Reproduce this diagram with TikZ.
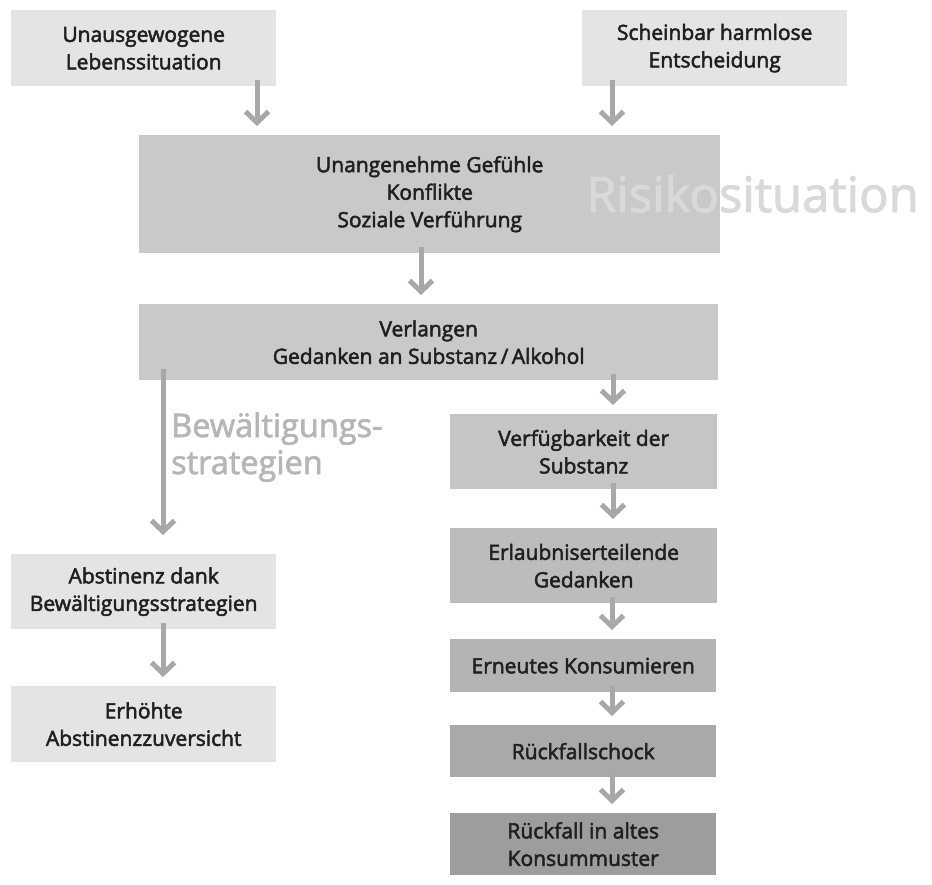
\documentclass[tikz,border=0pt]{standalone}
\usepackage{fontspec}
\setmainfont{Open Sans}
\newfontfamily\semib{Open Sans}[FakeBold=2.5]
\newfontfamily\semic{Open Sans}[FakeBold=2]
\usetikzlibrary{arrows.meta}
\definecolor{txt}{HTML}{231F20}
\definecolor{cA}{HTML}{E3E4E5}
\definecolor{cC}{HTML}{C8C9CB}
\definecolor{cE}{HTML}{C4C5C7}
\definecolor{cF}{HTML}{BBBCBE}
\definecolor{cG}{HTML}{B3B4B6}
\definecolor{cH}{HTML}{A8A9AB}
\definecolor{cI}{HTML}{9C9D9F}
\definecolor{arrc}{HTML}{A7A8AA}
\definecolor{risk}{HTML}{D8D9DB}
\definecolor{bew}{HTML}{B4B6B9}
\tikzset{
  box/.style={draw=none, text=txt, align=center, inner sep=0pt, anchor=north west,
    font=\semib\fontsize{21}{27.5}\selectfont},
  arr/.style={draw=arrc, line width=5pt,
    -{Straight Barb[length=11pt, width=23pt, line width=5pt]},
    shorten <=-6pt, shorten >=9pt},
}
\begin{document}
\begin{tikzpicture}[x=1pt, y=-1pt]
\useasboundingbox[fill=white] (0,0) rectangle (932,885);
% boxes
\node[box, fill=cA, minimum width=265pt, minimum height=76pt] (A) at (11,10) {Unausgewogene\\Lebenssituation};
\node[box, fill=cA, minimum width=265pt, minimum height=76pt] (B) at (582,10) {Scheinbar harmlose\\Entscheidung};
\node[box, fill=cC, minimum width=581pt, minimum height=118pt] (C) at (139,135) {Unangenehme Gefühle\\Konflikte\\Soziale Verführung};
\node[box, fill=cC, minimum width=579pt, minimum height=76pt] (D) at (139,304) {Verlangen\\Gedanken an Substanz\,/\,Alkohol};
\node[box, fill=cE, minimum width=267pt, minimum height=75pt] (E) at (450,414) {Verfügbarkeit der\\Substanz};
\node[box, fill=cF, minimum width=267pt, minimum height=75pt] (F) at (450,528) {Erlaubniserteilende\\Gedanken};
\node[box, fill=cG, minimum width=266pt, minimum height=53pt] (G) at (450,639) {Erneutes Konsumieren};
\node[box, fill=cH, minimum width=266pt, minimum height=52pt] (H) at (450,725) {Rückfallschock};
\node[box, fill=cI, minimum width=266pt, minimum height=62pt] (I) at (450,813) {Rückfall in altes\\Konsummuster};
\node[box, fill=cA, minimum width=265pt, minimum height=75pt] (J) at (11,554) {Abstinenz dank\\Bewältigungsstrategien};
\node[box, fill=cA, minimum width=265pt, minimum height=76pt] (K) at (11,686) {Erhöhte\\Abstinenzzuversicht};
% labels
\node[anchor=base west, inner sep=0pt, text=risk, font=\semic\fontsize{49}{60}\selectfont] (risk) at (586,212) {Risikosituation};
\node[anchor=base west, inner sep=0pt, text=bew, align=left, font=\semic\fontsize{32.5}{37}\selectfont] (bew) at (171,474) {Bewältigungs-\\strategien};
% arrows
\draw[arr] (A.south -| 257,0) -- (C.north -| 257,0);
\draw[arr] (B.south -| 612,0) -- (C.north -| 612,0);
\draw[arr] (C.south -| 421,0) -- (D.north -| 421,0);
\draw[arr] (D.south -| 613,0) -- (E.north -| 613,0);
\draw[arr, shorten <=-11pt] (D.south -| 163,0) -- ([yshift=10pt]J.north -| 163,0);
\draw[arr] (E.south -| 613,0) -- (F.north -| 613,0);
\draw[arr] (F.south -| 612,0) -- (G.north -| 612,0);
\draw[arr] (G.south -| 612,0) -- (H.north -| 612,0);
\draw[arr] (H.south -| 612,0) -- (I.north -| 612,0);
\draw[arr] (J.south -| 163,0) -- (K.north -| 163,0);
\end{tikzpicture}
\end{document}
